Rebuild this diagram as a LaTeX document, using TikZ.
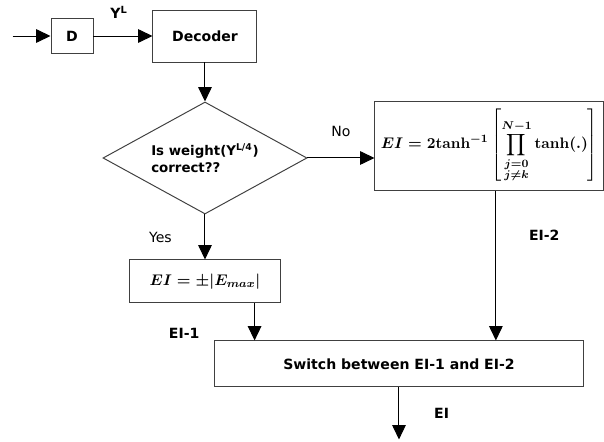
\documentclass[tikz,border=0pt]{standalone}
\usepackage{fontspec}
\setsansfont{DejaVu Sans}
\usepackage{amsmath}
\usepackage{amssymb}
\usetikzlibrary{positioning, arrows.meta, shapes.geometric}
\definecolor{boxgray}{RGB}{64, 64, 64}

\begin{document}
\begin{tikzpicture}[
    node distance=1cm and 1cm,
    box/.style={
        rectangle,
        draw=boxgray,
        line width=0.7pt,
        align=center,
        inner sep=2pt,
        font=\sffamily\bfseries
    },
    mathbox/.style={
        rectangle,
        draw=boxgray,
        line width=0.7pt,
        align=center,
        inner sep=2pt,
        font=\fontsize{10.8}{13}\selectfont\boldmath
    },
    decision/.style={
        diamond,
        draw=boxgray,
        line width=0.7pt,
        aspect=1.8,
        inner sep=1pt,
        minimum width=5.1cm,
        minimum height=2.8cm,
        align=left,
        font=\sffamily\bfseries\fontsize{9.5}{12}\selectfont
    },
    arrow/.style={
        line width=0.7pt,
        -{Triangle[length=3.6mm, width=3.4mm]}
    },
    lbl/.style={font=\sffamily\bfseries},
    yn/.style={font=\sffamily}
]
\useasboundingbox (0,0) rectangle (15.1,-11.025);

% Nodes
\node (d) [box, minimum width=1.05cm, minimum height=0.875cm] at (1.8,-0.9) {D};
\coordinate [left=0.95cm of d] (in);
\node (decoder) [box, right=1.475cm of d, minimum width=2.6cm, minimum height=1.3cm] {Decoder};

\node (decision) [decision, below=0.975cm of decoder] {Is weight(Y\textsuperscript{L/4})\\correct??};
\node (ei2) [mathbox, right=1.675cm of decision, yshift=0.31cm, minimum width=5.725cm, minimum height=2.225cm]
    {$EI = \textbf{2tanh}^{-1}\left[\displaystyle\prod_{\substack{j=0\\ j\neq k}}^{N-1}\textbf{tanh}(.)\right]$};
\node (ei1) [mathbox, below=1.125cm of decision, minimum width=3.775cm, minimum height=1.075cm] {$EI = \pm|E_{max}|$};

\node (switch) [box, below=0.925cm of ei1, xshift=4.85cm, minimum width=9.225cm, minimum height=1.15cm] {Switch between EI-1 and EI-2};
\coordinate [below=1.3cm of switch] (out);

% Connections
\draw [arrow] (in) -- (d);
\draw [arrow] (d) -- (decoder) node[midway, above=0.3cm, xshift=-0.1cm, lbl] {Y\textsuperscript{L}};
\draw [arrow] (decoder) -- (decision);
\draw [arrow] (decision.east) -- (decision.east -| ei2.west) node[midway, above=0.4cm, yn] {No};
\draw [arrow] (decision) -- (ei1) node[midway, left=0.7cm, yn] {Yes};
\draw [arrow] ([xshift=1.24cm]ei1.south) -- ([xshift=1.24cm]ei1.south |- switch.north) node[pos=0.8, left=1.25cm, lbl] {EI-1};
\draw [arrow] ([xshift=0.16cm]ei2.south) -- ([xshift=0.16cm]ei2.south |- switch.north) node[pos=0.3, right=0.7cm, lbl] {EI-2};
\draw [arrow] (switch) -- (out) node[midway, right=0.75cm, lbl] {EI};

\end{tikzpicture}
\end{document}
